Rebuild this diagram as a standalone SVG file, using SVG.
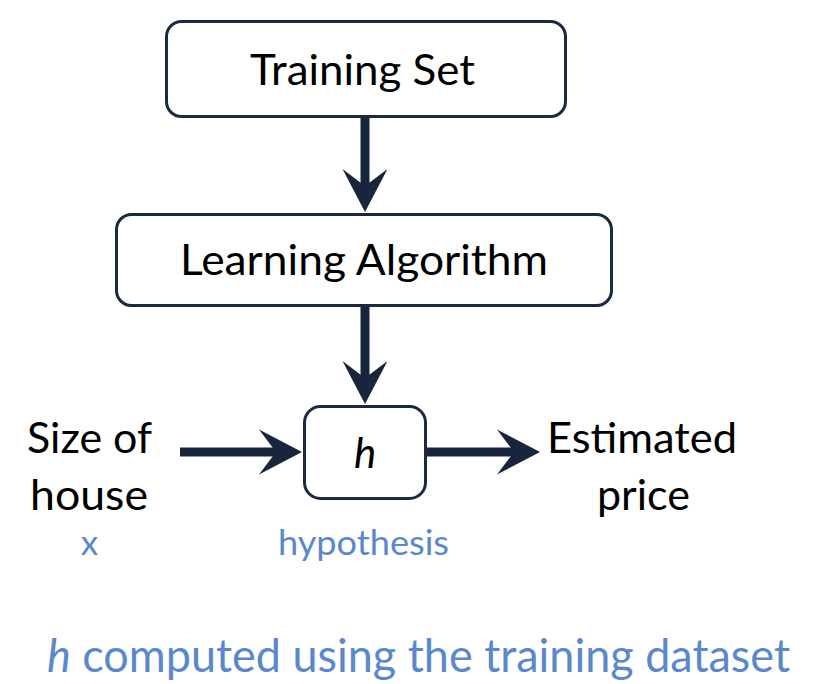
<svg xmlns="http://www.w3.org/2000/svg" width="819" height="684" viewBox="0 0 819 684">
  <style>
    .box { fill: #ffffff; stroke: #1b2a41; stroke-width: 3; }
    .lbl { font-family: Lato, "Open Sans", "Liberation Sans", sans-serif; font-size: 42px; fill: #000000; }
    .blue { font-family: Lato, "Open Sans", "Liberation Sans", sans-serif; fill: #5a88cc; }
    .conn { stroke: #17263d; stroke-width: 9; fill: none; marker-end: url(#head); }
  </style>
  <defs>
    <marker id="head" markerUnits="userSpaceOnUse" viewBox="0 0 43 45" markerWidth="43" markerHeight="45" refX="21" refY="22.5" orient="auto" overflow="visible">
      <path d="M0,0 L43,22.5 L0,45 L17,22.5 Z" fill="#17263d"/>
    </marker>
  </defs>
  <rect width="819" height="684" fill="#ffffff"/>

  <g id="connectors">
    <line class="conn" x1="365" y1="118" x2="365" y2="190"/>
    <line class="conn" x1="365" y1="307" x2="365" y2="382"/>
    <line class="conn" x1="180" y1="452" x2="280" y2="452"/>
    <line class="conn" x1="427" y1="452" x2="518" y2="452"/>
  </g>

  <g id="training-set">
    <rect class="box" x="166.5" y="21.5" width="399" height="95" rx="15"/>
    <text class="lbl" x="250" y="85" textLength="225" lengthAdjust="spacingAndGlyphs">Training Set</text>
  </g>

  <g id="learning-algorithm">
    <rect class="box" x="116.5" y="214.5" width="495" height="91" rx="15"/>
    <text class="lbl" x="180" y="275" textLength="368" lengthAdjust="spacingAndGlyphs">Learning Algorithm</text>
  </g>

  <g id="hypothesis-box">
    <rect class="box" x="304.5" y="406.5" width="121" height="92" rx="16"/>
    <text class="lbl" x="365" y="468" text-anchor="middle" font-style="italic">h</text>
  </g>

  <g id="input">
    <text class="lbl" x="27" y="453" textLength="125" lengthAdjust="spacingAndGlyphs">Size of</text>
    <text class="lbl" x="30" y="510" textLength="118" lengthAdjust="spacingAndGlyphs">house</text>
    <text class="blue" x="89.5" y="555" font-size="35" text-anchor="middle">x</text>
  </g>

  <g id="output">
    <text class="lbl" x="547" y="453" textLength="190" lengthAdjust="spacingAndGlyphs">Estimated</text>
    <text class="lbl" x="597" y="510" textLength="93" lengthAdjust="spacingAndGlyphs">price</text>
  </g>

  <g id="hypothesis-label">
    <text class="blue" x="278" y="555" font-size="34" textLength="171" lengthAdjust="spacingAndGlyphs">hypothesis</text>
  </g>

  <g id="caption">
    <text class="blue" x="47" y="672" font-size="46" textLength="743" lengthAdjust="spacingAndGlyphs"><tspan font-style="italic">h</tspan> computed using the training dataset</text>
  </g>
</svg>
